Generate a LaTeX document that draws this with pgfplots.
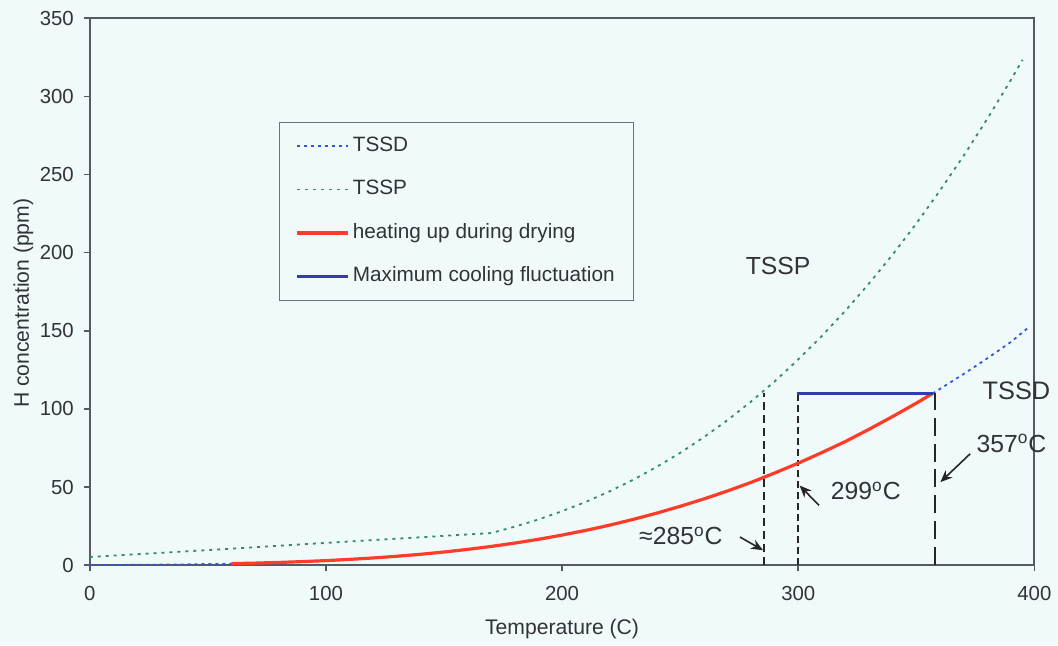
\documentclass[border=0pt]{standalone}
\usepackage{pgfplots}
\pgfplotsset{compat=1.18}
\usepackage{fontspec}
\setmainfont{Liberation Sans}
\usetikzlibrary{calc,backgrounds,arrows.meta}

\definecolor{bgc}{RGB}{240,250,250}
\definecolor{axcol}{RGB}{85,90,95}
\definecolor{txt}{RGB}{50,50,55}
\definecolor{tssdc}{RGB}{51,85,221}
\definecolor{tsspc}{RGB}{50,140,100}
\definecolor{redc}{RGB}{255,60,40}
\definecolor{mblue}{RGB}{50,60,170}
\definecolor{legcol}{RGB}{110,115,120}

\begin{document}
\begin{tikzpicture}[show background rectangle, inner frame sep=0pt,
  background rectangle/.style={fill=bgc,draw=none}]
\begin{axis}[
  name=ax,
  scale only axis,
  width=473.5pt, height=274.2pt,
  xmin=0, xmax=400, ymin=0, ymax=350,
  xtick={0,100,...,400}, ytick={0,50,...,350},
  tick align=outside, tick pos=left, major tick length=3pt,
  axis line style={axcol, line width=1pt},
  tick style={axcol, line width=0.8pt},
  /pgf/number format/assume math mode=true,
  ticklabel style={font=\fontsize{10.2}{12}\selectfont, text=txt},
  xticklabel style={yshift=-4pt},
  yticklabel style={xshift=-1.5pt},
  xlabel={Temperature (C)},
  ylabel={H concentration (ppm)},
  label style={font=\fontsize{10.6}{12}\selectfont, text=txt},
  xlabel style={at={(axis description cs:0.5,-0.1265)}, anchor=base},
  ylabel style={at={(axis description cs:-0.0644,0.479)}, anchor=base},
  clip=false,
  no marks,
  legend cell align=left,
  legend style={at={(0.2006,0.811)}, anchor=north west, draw=legcol, line width=0.6pt,
    fill=bgc, font=\fontsize{10.4}{12.5}\selectfont, text=txt,
    row sep=8pt, inner xsep=8pt, inner ysep=5pt,
    nodes={inner xsep=1.5pt, text height=7.6pt, text depth=2.2pt}},
  legend image code/.code={\draw[#1] (0pt,0pt) -- (25.5pt,0pt);},
]
% TSSD
\addplot[tssdc, line width=0.9pt, dash pattern=on 1.5pt off 2pt] coordinates {
(0,0.12)(10,0.18)(20,0.27)(30,0.39)(40,0.55)(50,0.76)(60,1.03)(70,1.37)(80,1.80)(90,2.33)
(100,2.97)(110,3.75)(120,4.67)(130,5.75)(140,7.01)(150,8.47)(160,10.15)(170,12.04)(180,14.2)(190,16.6)
(200,19.3)(210,22.3)(220,25.6)(230,29.3)(240,33.3)(250,37.7)(260,42.4)(270,47.5)(280,53.0)(290,59.0)
(300,65.3)(310,72.1)(320,79.2)(330,87.0)(340,95.2)(350,103.7)(357,110.0)(360,112.8)(370,122.3)(380,132.3)
(390,142.8)(397,151.5)};
\addlegendentry{TSSD}
% TSSP
\addplot[tsspc, line width=0.9pt, dash pattern=on 1.5pt off 2.5pt] coordinates {
(0,5.3)(50,9.7)(100,14.3)(140,17.9)(170,20.6)(180,24.7)(190,29.3)
(200,34.6)(210,40.5)(220,47.2)(230,54.6)(240,62.9)(250,71.9)(260,81.9)(270,92.8)(280,104.7)(290,117.6)
(300,131.7)(310,146.7)(320,162.9)(330,180.3)(340,198.8)(350,218.6)(360,239.7)(370,261.9)(380,285.5)
(390,310.4)(395,323.4)};
\addlegendentry{TSSP}
% vertical dashed lines
\addplot[black!85, line width=1pt, dash pattern=on 4pt off 2.5pt, forget plot] coordinates {(285.5,0)(285.5,110)};
\addplot[black!85, line width=1pt, dash pattern=on 3.5pt off 2pt, forget plot] coordinates {(300,0)(300,110)};
\addplot[black!85, line width=1pt, dash pattern=on 9pt off 4pt, forget plot] coordinates {(358,0)(358,110)};
% heating up
\addplot[redc, line width=1.6pt] coordinates {
(60,1.03)(70,1.37)(80,1.80)(90,2.33)
(100,2.97)(110,3.75)(120,4.67)(130,5.75)(140,7.01)(150,8.47)(160,10.15)(170,12.04)(180,14.2)(190,16.6)
(200,19.3)(210,22.3)(220,25.6)(230,29.3)(240,33.3)(250,37.7)(260,42.4)(270,47.5)(280,53.0)(290,59.0)
(300,65.3)(310,72.1)(320,79.2)(330,87.0)(340,95.2)(350,103.7)(357,110.0)};
\addlegendentry{heating up during drying}
% maximum cooling fluctuation
\addplot[mblue, line width=1.6pt] coordinates {(299.5,110)(357,110)};
\addlegendentry{Maximum cooling fluctuation}

% annotations
\node[font=\fontsize{12.4}{14}\selectfont, text=txt] at (axis cs:291.5,191.8) {TSSP};
\node[font=\fontsize{12.7}{14}\selectfont, text=txt] at (axis cs:392.4,111.7) {TSSD};
\node[font=\fontsize{12.4}{14}\selectfont, text=txt] at (axis cs:250.3,18.8) {≈285\textsuperscript{o}C};
\node[font=\fontsize{12.4}{14}\selectfont, text=txt] at (axis cs:328.6,47.5) {299\textsuperscript{o}C};
\node[font=\fontsize{12.4}{14}\selectfont, text=txt] at (axis cs:390.3,78) {357\textsuperscript{o}C};
\draw[-{Stealth[length=6pt,width=5pt]}, line width=0.8pt, black!85] (axis cs:275.3,18.1) -- (axis cs:285.1,9.6);
\draw[-{Stealth[length=6pt,width=5pt]}, line width=0.8pt, black!85] (axis cs:308.8,38.3) -- (axis cs:300.6,51);
\draw[-{Stealth[length=6pt,width=5pt]}, line width=0.8pt, black!85] (axis cs:372.8,71.3) -- (axis cs:360.2,53.2);
\end{axis}
\path ($(ax.south west)+(-45pt,-39.65pt)$) rectangle ($(ax.north east)+(10.5pt,9.15pt)$);
\end{tikzpicture}
\end{document}
